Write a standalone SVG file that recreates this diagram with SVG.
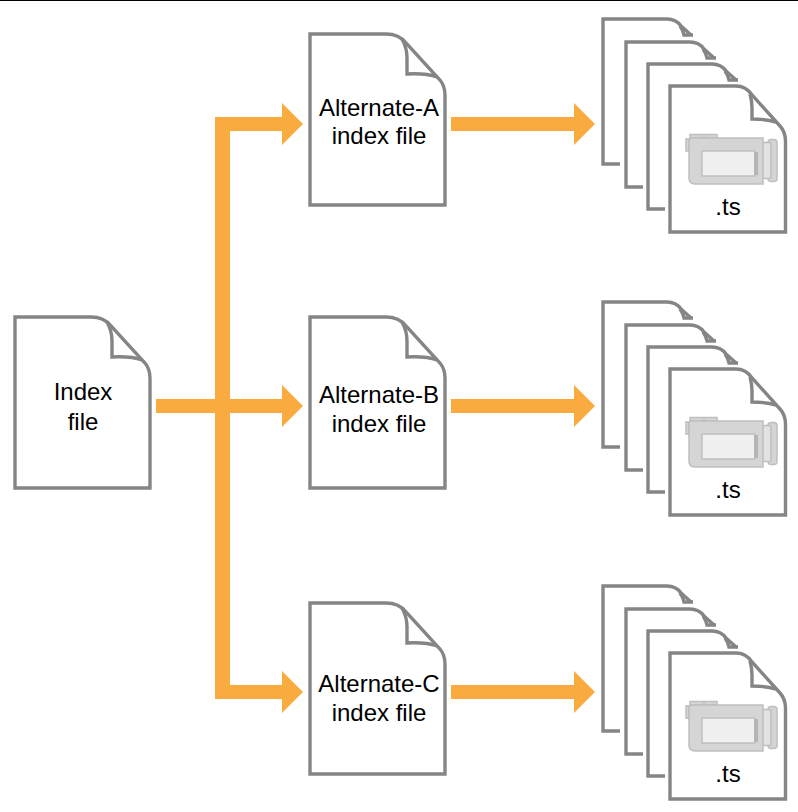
<svg xmlns="http://www.w3.org/2000/svg" width="798" height="812" viewBox="0 0 798 812">
<style>
.doc{fill:#fff;stroke:#858585;stroke-width:3.4;stroke-linejoin:miter}
.fold{fill:none;stroke:#858585;stroke-width:3.4}
.thin{fill:none;stroke:#858585;stroke-width:3.4}
.cam{fill:#d5d5d5;stroke:#bfbfbf;stroke-width:1.5}
.scr{fill:#f0f0f0;stroke:#bfbfbf;stroke-width:1.5}
.lbl{font-family:"Liberation Sans",Arial,sans-serif;font-size:24px;fill:#000;text-anchor:middle}
.flow{fill:#f9ab40}
</style>
<defs>
<g id="page">
<path class="doc" d="M0,0H76Q89,0 96,9L130,46Q135,52 135,61V171H0Z"/>
<path class="fold" d="M92,5Q97,14 97,24V40Q116,39 127,43"/>
</g>
<g id="rear">
<path class="thin" d="M17,145H0V0H64Q73,0 78,7L88,16"/>
<path class="thin" d="M77,7Q80,11 81,16H90"/>
</g>
<g id="stack">
<use href="#rear" x="603" y="19"/>
<use href="#rear" x="626" y="42"/>
<use href="#rear" x="648" y="64"/>
<path class="doc" d="M670,86H736Q746,86 752,95L780,126Q785.500,132 785.500,141V232H670Z"/>
<path class="fold" d="M750,94Q752,101 752,108V119Q766,119 776,122"/>
<path class="cam" d="M690,138V134.500H704V138ZM704,138V134.500H717V138Z"/>
<path class="cam" d="M689,139H686V151H689Z"/>
<rect class="cam" x="768" y="139.500" width="9" height="42" rx="3"/>
<rect class="cam" x="762" y="142.500" width="9" height="36" rx="2" style="fill:#e2e2e2"/>
<path class="cam" d="M692,138H763V184H695Q689,184 689,178V141Q689,138 692,138Z"/>
<rect class="scr" x="702" y="151" width="53" height="25"/>
<rect x="754" y="152" width="4" height="23" fill="#b5b5b5"/>
<text class="lbl" x="728" y="215">.ts</text>
</g>
</defs>
<rect width="798" height="812" fill="#fff"/>
<rect width="798" height="1" fill="#000"/>
<g id="connectors">
<path class="flow" d="M156,399H215V117H282V103L303,124L282,145V131H230V399H282V385L303,406L282,427V413H230V685H282V671L303,692L282,713V699H215V413H156Z"/>
<path class="flow" d="M451,117H574V103L595,124L574,145V131H451Z"/>
<path class="flow" d="M451,399H574V385L595,406L574,427V413H451Z"/>
<path class="flow" d="M451,685H574V671L595,692L574,713V699H451Z"/>
</g>
<g id="index-file">
<use href="#page" x="15" y="317"/>
<text class="lbl" x="83" y="400">Index</text>
<text class="lbl" x="83" y="430">file</text>
</g>
<g id="alternate-a">
<use href="#page" x="310" y="34"/>
<text class="lbl" x="379" y="116">Alternate-A</text>
<text class="lbl" x="379" y="144">index file</text>
</g>
<g id="alternate-b">
<use href="#page" x="310" y="317"/>
<text class="lbl" x="379" y="403">Alternate-B</text>
<text class="lbl" x="379" y="432">index file</text>
</g>
<g id="alternate-c">
<use href="#page" x="310" y="603"/>
<text class="lbl" x="379" y="692">Alternate-C</text>
<text class="lbl" x="379" y="721">index file</text>
</g>
<g id="segments-a"><use href="#stack"/></g>
<g id="segments-b"><use href="#stack" y="283"/></g>
<g id="segments-c"><use href="#stack" y="567"/></g>
</svg>
